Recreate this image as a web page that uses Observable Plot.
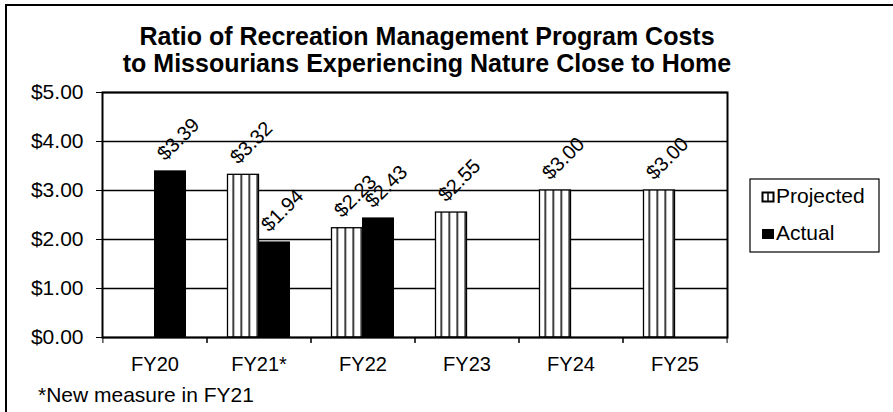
<!DOCTYPE html>
<html><head><meta charset="utf-8">
<script src="https://cdn.jsdelivr.net/npm/d3@7"></script>
<script src="https://cdn.jsdelivr.net/npm/@observablehq/plot@0.6"></script>
<style>
body{margin:0;background:#fff;}
#wrap{position:relative;width:893px;height:412px;overflow:hidden;background:#fff;font-family:Arial,"Liberation Sans",sans-serif;}
#wrap svg{position:absolute;left:0;top:0;}
#border{position:absolute;left:5px;top:4px;width:2000px;height:2000px;border-left:2px solid #000;border-top:2px solid #000;}
</style></head><body><div id="wrap"><div id="border"></div></div>
<script>
const years = ["FY20", "FY21*", "FY22", "FY23", "FY24", "FY25"];
const projected = [null, 3.32, 2.23, 2.55, 3.00, 3.00];
const actual = [3.39, 1.94, 2.43, null, null, null];
const yTicks = [0, 1, 2, 3, 4, 5];
const seriesNames = ["Projected", "Actual"];
const titleLines = ["Ratio of Recreation Management Program Costs", "to Missourians Experiencing Nature Close to Home"];
const footnote = "*New measure in FY21";

const projRows = years.map((y, i) => ({year: y, value: projected[i]})).filter(d => d.value != null);
const actRows = years.map((y, i) => ({year: y, value: actual[i]})).filter(d => d.value != null);

const W = 893, H = 412, mL = 102, mR = 166, mT = 92, mB = 75;
const step = (W - mL - mR) / years.length;
const barW = 31;
const pad = 1 - barW / step;
const fmt = d3.format("$.2f");
const FONT = 'Arial, "Liberation Sans", sans-serif';

const chart = Plot.plot({
  width: W, height: H,
  marginLeft: mL, marginRight: mR, marginTop: mT, marginBottom: mB,
  style: {fontFamily: FONT, fontSize: "20px", color: "#000", background: "transparent", overflow: "visible"},
  x: {domain: years, paddingInner: pad, paddingOuter: pad / 2, align: 0.5},
  y: {domain: [0, 5]},
  marks: [
    Plot.gridY({ticks: yTicks, stroke: "#000", strokeOpacity: 1, strokeWidth: 1.4}),
    Plot.barY(projRows, {x: "year", y: "value", dx: -barW / 2, fill: "url(#stripes)", stroke: "#000", strokeWidth: 1.3}),
    Plot.barY(actRows, {x: "year", y: "value", dx: barW / 2, fill: "#000", stroke: "#000"}),
    Plot.frame({stroke: "#000", strokeWidth: 2}),
    Plot.axisY({ticks: yTicks, tickFormat: fmt, tickSize: 6, tickPadding: 13, fontSize: 21, label: null}),
    Plot.axisX({tickSize: 0, tickPadding: 19, fontSize: 20, label: null}),
    Plot.axisX({tickSize: 6, tickFormat: () => "", dx: -step / 2, label: null}),
    Plot.axisX({tickSize: 6, tickFormat: () => "", dx: step / 2, label: null}),
    Plot.text(projRows, {x: "year", y: "value", text: d => fmt(d.value), rotate: -45, dx: -barW / 2 + 8, dy: -32, fontSize: 20, fill: "#000"}),
    Plot.text(actRows, {x: "year", y: "value", text: d => fmt(d.value), rotate: -45, dx: barW / 2 + 8, dy: -32, fontSize: 20, fill: "#000"})
  ]
});

const svg = d3.select(chart);
const defs = svg.insert("defs", ":first-child");
const pat = defs.append("pattern").attr("id", "stripes").attr("patternUnits", "userSpaceOnUse").attr("width", 8).attr("height", 8);
pat.append("rect").attr("width", 8).attr("height", 8).attr("fill", "#fff");
pat.append("rect").attr("x", 0).attr("width", 1.5).attr("height", 8).attr("fill", "#000");

// Title
const t = svg.append("text").attr("font-family", FONT).attr("font-weight", "bold").attr("font-size", 25)
  .attr("text-anchor", "middle").attr("fill", "#000");
titleLines.forEach((line, i) => t.append("tspan").attr("x", 427).attr("y", 45 + i * 27).text(line));

// Footnote
svg.append("text").attr("font-family", FONT).attr("font-size", 21).attr("fill", "#000")
  .attr("text-anchor", "start").attr("x", 38).attr("y", 402).text(footnote);

// Legend
const lg = svg.append("g").attr("text-anchor", "start");
lg.append("rect").attr("x", 750).attr("y", 179).attr("width", 129).attr("height", 73)
  .attr("fill", "#fff").attr("stroke", "#000").attr("stroke-width", 1.2);
seriesNames.forEach((name, i) => {
  const y = 192 + i * 37;
  if (i === 0) {
    lg.append("rect").attr("x", 762.5).attr("y", y + 0.5).attr("width", 11).attr("height", 9)
      .attr("fill", "#fff").attr("stroke", "#000").attr("stroke-width", 2);
    lg.append("line").attr("x1", 768).attr("x2", 768).attr("y1", y).attr("y2", y + 10).attr("stroke", "#000").attr("stroke-width", 1.5);
  } else {
    lg.append("rect").attr("x", 762).attr("y", y).attr("width", 12).attr("height", 10).attr("fill", "#000");
  }
  lg.append("text").attr("font-family", FONT).attr("font-size", 21).attr("fill", "#000")
    .attr("text-anchor", "start").attr("x", 776).attr("y", y + 11).text(name);
});

document.getElementById("wrap").appendChild(chart);
</script>
</body></html>
